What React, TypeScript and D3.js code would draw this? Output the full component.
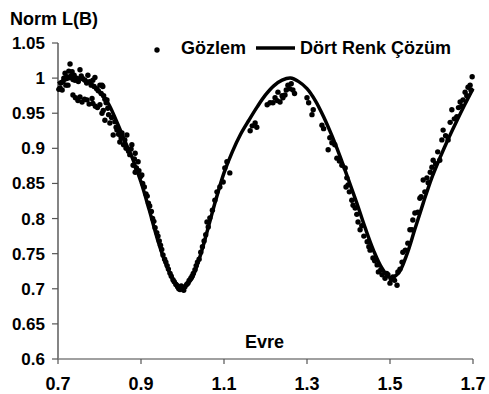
import React from 'react';
import * as d3 from 'd3';

// model light curve (solid line)
const modelPhase = [0.70, 0.72, 0.74, 0.76, 0.78, 0.80, 0.82, 0.84, 0.86, 0.88, 0.90, 0.92, 0.94, 0.96, 0.98, 1.00,
  1.02, 1.04, 1.06, 1.08, 1.10, 1.12, 1.14, 1.16, 1.18, 1.20, 1.22, 1.24, 1.26, 1.28, 1.30, 1.32, 1.34, 1.36, 1.38,
  1.40, 1.42, 1.44, 1.46, 1.48, 1.50, 1.52, 1.54, 1.56, 1.58, 1.60, 1.62, 1.64, 1.66, 1.68, 1.70];
const modelFlux = [0.992, 0.998, 1.000, 0.998, 0.992, 0.980, 0.965, 0.940, 0.912, 0.885, 0.852, 0.812, 0.770, 0.735, 0.711, 0.702,
  0.712, 0.742, 0.783, 0.826, 0.865, 0.895, 0.920, 0.940, 0.959, 0.976, 0.989, 0.997, 1.000, 0.995, 0.985, 0.968, 0.945, 0.918, 0.888,
  0.855, 0.822, 0.787, 0.755, 0.730, 0.716, 0.722, 0.748, 0.785, 0.822, 0.857, 0.886, 0.913, 0.938, 0.962, 0.985];

// observations (dots)
const obsPhase = [0.702, 0.705, 0.707, 0.710, 0.712, 0.714, 0.717, 0.719, 0.721, 0.724, 0.726, 0.729, 0.731, 0.734, 0.736,
  0.739, 0.741, 0.745, 0.749, 0.753, 0.756, 0.760, 0.765, 0.769, 0.772, 0.776, 0.780, 0.784, 0.787, 0.789, 0.793, 0.797,
  0.801, 0.804, 0.806, 0.808, 0.810, 0.813, 0.816, 0.818, 0.820,
  0.736, 0.742, 0.748, 0.753, 0.758, 0.764, 0.770, 0.775, 0.782, 0.784, 0.790, 0.795, 0.801, 0.806, 0.809, 0.813, 0.822,
  0.825, 0.829, 0.833, 0.837, 0.840, 0.842, 0.846, 0.849, 0.852, 0.854, 0.858, 0.861, 0.864, 0.866, 0.870, 0.873, 0.876,
  0.878, 0.881, 0.884, 0.886, 0.889, 0.893, 0.886, 0.895, 0.899, 0.902,
  0.904, 0.908, 0.912, 0.915, 0.918, 0.921, 0.925, 0.928, 0.931, 0.934, 0.938, 0.941, 0.944, 0.947, 0.950, 0.953, 0.957,
  0.960, 0.963, 0.966, 0.970, 0.973, 0.977, 0.980, 0.984, 0.988, 0.991, 0.994, 0.997, 1.000, 1.003, 1.006, 1.010, 1.013,
  1.016, 1.020, 1.023, 1.026, 1.030, 1.033, 1.036, 1.040, 1.044, 1.048, 1.052, 1.056, 1.059, 1.062, 1.066, 1.072, 1.078,
  1.083, 1.090, 1.098, 1.102, 1.107, 1.114, 1.163, 1.168, 1.175, 1.179, 1.204, 1.211, 1.218, 1.223, 1.228, 1.230, 1.235,
  1.240, 1.242, 1.247, 1.250, 1.254, 1.258, 1.262, 1.266, 1.270, 1.300, 1.304, 1.312, 1.315, 1.336, 1.340, 1.351, 1.355,
  1.360, 1.367, 1.372, 1.378, 1.384, 1.392, 1.394, 1.396, 1.399, 1.402, 1.408, 1.411, 1.416, 1.420, 1.423, 1.428, 1.432,
  1.437, 1.445, 1.449, 1.452, 1.459, 1.463, 1.469, 1.472, 1.478, 1.481, 1.488, 1.492, 1.495, 1.500, 1.503, 1.507, 1.511,
  1.517, 1.519, 1.524, 1.529, 1.531, 1.537, 1.543, 1.548, 1.553, 1.555, 1.560, 1.567, 1.572, 1.575, 1.580, 1.584, 1.589,
  1.592, 1.597, 1.601, 1.604, 1.610, 1.615, 1.620, 1.625, 1.628, 1.634, 1.640, 1.645, 1.649, 1.655, 1.661, 1.665, 1.669,
  1.673, 1.676, 1.681, 1.685, 1.688, 1.693, 1.695, 1.698];
const obsFlux = [0.984, 0.986, 0.993, 0.983, 0.995, 1.000, 1.007, 0.990, 1.002, 0.990, 1.010, 1.020, 1.003, 1.009, 0.998,
  1.004, 0.997, 1.000, 0.995, 1.012, 1.003, 0.999, 0.997, 0.993, 1.004, 0.995, 0.990, 0.997, 0.988, 1.001, 0.985, 0.982,
  0.990, 0.978, 0.990, 0.988, 0.975, 0.970, 0.965, 0.969, 0.957,
  0.976, 0.972, 0.968, 0.973, 0.966, 0.970, 0.969, 0.963, 0.971, 0.964, 0.960, 0.958, 0.962, 0.950, 0.954, 0.940, 0.948,
  0.936, 0.944, 0.919, 0.938, 0.930, 0.926, 0.920, 0.909, 0.915, 0.922, 0.905, 0.912, 0.900, 0.919, 0.896, 0.891, 0.899,
  0.905, 0.876, 0.885, 0.893, 0.872, 0.881, 0.866, 0.868, 0.860, 0.862,
  0.850, 0.845, 0.835, 0.832, 0.822, 0.818, 0.810, 0.800, 0.796, 0.787, 0.780, 0.775, 0.768, 0.762, 0.756, 0.748, 0.742,
  0.738, 0.733, 0.728, 0.722, 0.718, 0.713, 0.710, 0.706, 0.703, 0.700, 0.699, 0.704, 0.701, 0.698, 0.703, 0.706, 0.708,
  0.712, 0.715, 0.718, 0.722, 0.727, 0.733, 0.738, 0.742, 0.752, 0.760, 0.768, 0.777, 0.795, 0.788, 0.801, 0.812, 0.826,
  0.838, 0.845, 0.852, 0.872, 0.881, 0.865, 0.925, 0.932, 0.936, 0.930, 0.962, 0.965, 0.965, 0.972, 0.968, 0.980, 0.966,
  0.975, 0.972, 0.976, 0.983, 0.990, 0.985, 0.992, 0.983, 0.978, 0.972, 0.965, 0.948, 0.955, 0.933, 0.928, 0.898, 0.915,
  0.908, 0.905, 0.886, 0.882, 0.876, 0.872, 0.845, 0.858, 0.848, 0.838, 0.826, 0.819, 0.815, 0.806, 0.795, 0.784, 0.790,
  0.775, 0.767, 0.760, 0.755, 0.744, 0.740, 0.734, 0.724, 0.727, 0.720, 0.715, 0.722, 0.720, 0.708, 0.714, 0.717, 0.712,
  0.705, 0.724, 0.728, 0.738, 0.752, 0.755, 0.765, 0.784, 0.784, 0.798, 0.808, 0.809, 0.829, 0.831, 0.855, 0.838, 0.858,
  0.851, 0.866, 0.873, 0.883, 0.878, 0.895, 0.883, 0.912, 0.926, 0.918, 0.912, 0.937, 0.955, 0.942, 0.945, 0.958, 0.966,
  0.960, 0.969, 0.980, 0.975, 0.987, 0.990, 0.983, 1.002];

const xTicks = [0.7, 0.9, 1.1, 1.3, 1.5, 1.7];
const xTickLabels = ['0.7', '0.9', '1.1', '1.3', '1.5', '1.7'];
const yTicks = [0.6, 0.65, 0.7, 0.75, 0.8, 0.85, 0.9, 0.95, 1.0, 1.05];
const yTickLabels = ['0.6', '0.65', '0.7', '0.75', '0.8', '0.85', '0.9', '0.95', '1', '1.05'];

const W = 489;
const H = 394;
const left = 58, right = 473, top = 43, bottom = 359;
const font = '"Liberation Sans", Arial, sans-serif';

export default function App() {
  const x = d3.scaleLinear().domain([0.7, 1.7]).range([left, right]);
  const y = d3.scaleLinear().domain([0.6, 1.05]).range([bottom, top]);

  const model = modelPhase.map((p, i) => [p, modelFlux[i]] as [number, number]);
  const obs = obsPhase.map((p, i) => [p, obsFlux[i]] as [number, number]);

  const line = d3.line<[number, number]>()
    .x(d => x(d[0]))
    .y(d => y(d[1]))
    .curve(d3.curveCatmullRom);

  return (
    <svg width={W} height={H} style={{ position: 'absolute', left: 0, top: 0, background: '#fff' }}
      fontFamily={font} fontWeight="bold">
      {/* y axis */}
      <line x1={left} x2={left} y1={top} y2={bottom} stroke="#333" strokeWidth={1.2} />
      {yTicks.map((t, i) => (
        <g key={'y' + i}>
          <line x1={left - 6} x2={left} y1={y(t)} y2={y(t)} stroke="#555" strokeWidth={1.2} />
          <text x={left - 13} y={y(t) + 6} textAnchor="end" fontSize={17}>{yTickLabels[i]}</text>
        </g>
      ))}
      {/* x axis */}
      <line x1={left} x2={right} y1={bottom} y2={bottom} stroke="#808080" strokeWidth={1.3} />
      {xTicks.map((t, i) => (
        <g key={'x' + i}>
          <line x1={x(t)} x2={x(t)} y1={bottom} y2={bottom + 5} stroke="#555" strokeWidth={1.2} />
          <text x={x(t)} y={390} textAnchor="middle" fontSize={18}>{xTickLabels[i]}</text>
        </g>
      ))}

      <text x={10} y={25} fontSize={18}>Norm L(B)</text>
      <text x={245} y={348} fontSize={18}>Evre</text>

      {obs.map((d, i) => (
        <circle key={'o' + i} cx={x(d[0])} cy={y(d[1])} r={2.7} fill="#000" />
      ))}
      <path d={line(model) || ''} fill="none" stroke="#000" strokeWidth={3.5} />

      {/* legend */}
      <circle cx={157} cy={50} r={2.7} fill="#000" />
      <text x={181} y={54} fontSize={18}>Gözlem</text>
      <line x1={256} x2={295} y1={48} y2={48} stroke="#000" strokeWidth={3.5} />
      <text x={300} y={54} fontSize={18}>Dört Renk Çözüm</text>
    </svg>
  );
}
